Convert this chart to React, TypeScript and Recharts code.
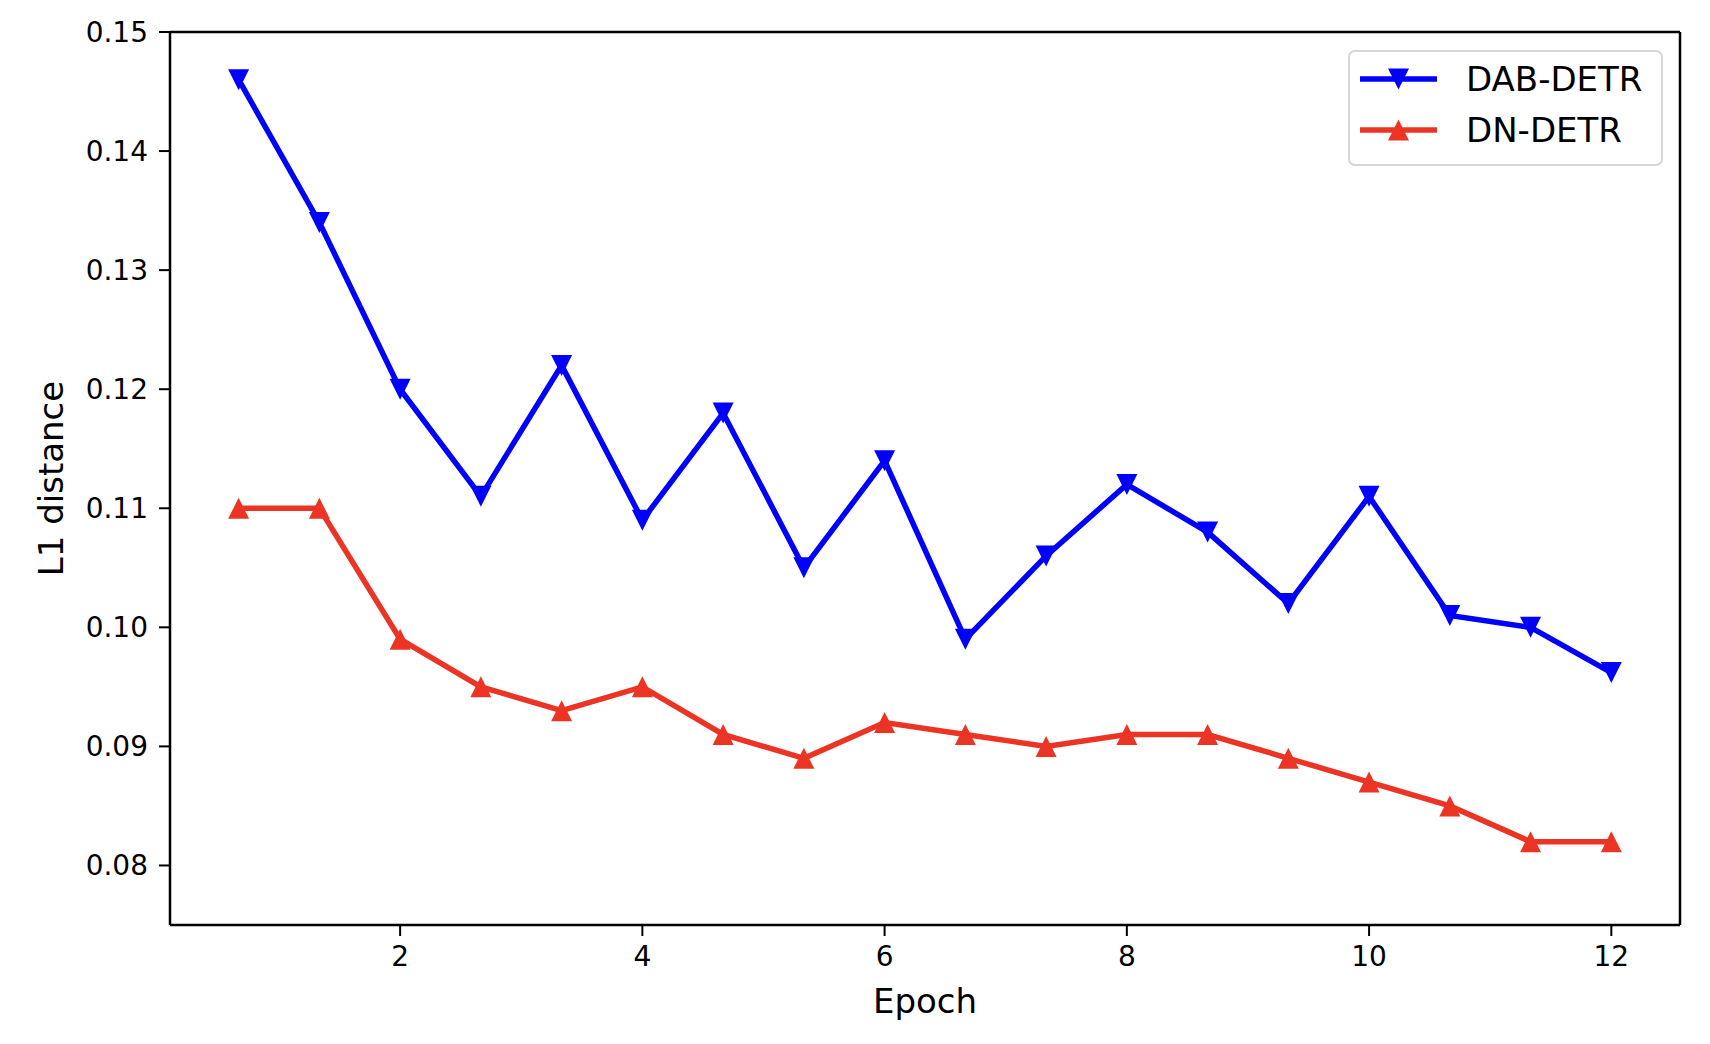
import React from 'react';
import { LineChart, Line, XAxis, YAxis, Legend, Label, ReferenceLine } from 'recharts';

const epochs = [0.6667, 1.3333, 2, 2.6667, 3.3333, 4, 4.6667, 5.3333, 6, 6.6667, 7.3333, 8, 8.6667, 9.3333, 10, 10.6667, 11.3333, 12];
const dabDetr = [0.146, 0.134, 0.120, 0.111, 0.122, 0.109, 0.118, 0.105, 0.114, 0.099, 0.106, 0.112, 0.108, 0.102, 0.111, 0.101, 0.100, 0.0962];
const dnDetr = [0.110, 0.110, 0.099, 0.095, 0.093, 0.095, 0.091, 0.089, 0.092, 0.091, 0.090, 0.091, 0.091, 0.089, 0.087, 0.085, 0.082, 0.082];
const xTicks = [2, 4, 6, 8, 10, 12];
const yTicks = [0.08, 0.09, 0.10, 0.11, 0.12, 0.13, 0.14, 0.15];
const xDomain = [0.1, 12.567];
const yDomain = [0.075, 0.15];
const seriesNames = ['DAB-DETR', 'DN-DETR'];

const BLUE = '#0000ff';
const RED = '#eb3424';
const FONT = '"DejaVu Sans", sans-serif';

const data = epochs.map((e, i) => ({ epoch: e, dab: dabDetr[i], dn: dnDetr[i] }));

const TRI = 10.5;

const DownTri = (props: any) => {
  const { cx, cy, fill } = props;
  if (cx == null || cy == null) return null;
  return <path d={`M${cx - TRI},${cy - TRI} L${cx + TRI},${cy - TRI} L${cx},${cy + TRI} Z`} fill={fill} stroke="none" />;
};
const UpTri = (props: any) => {
  const { cx, cy, fill } = props;
  if (cx == null || cy == null) return null;
  return <path d={`M${cx - TRI},${cy + TRI} L${cx + TRI},${cy + TRI} L${cx},${cy - TRI} Z`} fill={fill} stroke="none" />;
};

const LegendBox = () => (
  <div
    style={{
      position: 'absolute',
      left: 1348,
      top: 50,
      width: 311,
      height: 112,
      border: '2px solid #d6d6d6',
      borderRadius: 7,
      background: 'rgba(255,255,255,0.8)',
      fontFamily: FONT,
      fontSize: 34,
      color: '#000',
    }}
  >
    {[
      { name: seriesNames[0], color: BLUE, down: true },
      { name: seriesNames[1], color: RED, down: false },
    ].map((it, i) => (
      <div key={it.name} style={{ position: 'absolute', left: 0, top: 27 + i * 51 - 25, height: 50, width: 311 }}>
        <svg width={100} height={50} style={{ position: 'absolute', left: 10, top: 0 }}>
          <line x1={0} y1={25} x2={77} y2={25} stroke={it.color} strokeWidth={5.5} />
          {it.down ? (
            <path d={`M${38.5 - TRI},${25 - TRI} L${38.5 + TRI},${25 - TRI} L38.5,${25 + TRI} Z`} fill={it.color} />
          ) : (
            <path d={`M${38.5 - TRI},${25 + TRI} L${38.5 + TRI},${25 + TRI} L38.5,${25 - TRI} Z`} fill={it.color} />
          )}
        </svg>
        <span style={{ position: 'absolute', left: 116, top: 25, transform: 'translateY(-50%)', lineHeight: 1, whiteSpace: 'nowrap' }}>
          {it.name}
        </span>
      </div>
    ))}
  </div>
);

const tickStyle = { fill: '#000', fontSize: 28, fontFamily: FONT };

export default function App() {
  return (
    <div style={{ position: 'absolute', left: 0, top: 0, width: 1710, height: 1044, background: '#fff' }}>
      <LineChart width={1710} height={1044} data={data} margin={{ top: 32, right: 30, left: 0, bottom: 0 }}>
        <XAxis
          dataKey="epoch"
          type="number"
          domain={xDomain}
          ticks={xTicks}
          allowDataOverflow
          height={119}
          tick={tickStyle}
          tickSize={11}
          tickMargin={10}
          axisLine={{ stroke: '#000', strokeWidth: 2.5 }}
          tickLine={{ stroke: '#000', strokeWidth: 2 }}
        >
          <Label
            content={(p: any) => {
              const vb = p.viewBox || {};
              return (
                <text x={vb.x + vb.width / 2} y={vb.y + 88} textAnchor="middle" fontFamily={FONT} fontSize={34} fill="#000">
                  Epoch
                </text>
              );
            }}
          />
        </XAxis>
        <YAxis
          type="number"
          domain={yDomain}
          ticks={yTicks}
          allowDataOverflow
          width={170}
          tick={tickStyle}
          tickSize={11}
          tickMargin={11}
          tickFormatter={(v: number) => v.toFixed(2)}
          axisLine={{ stroke: '#000', strokeWidth: 2.5 }}
          tickLine={{ stroke: '#000', strokeWidth: 2 }}
        >
          <Label
            content={(p: any) => {
              const vb = p.viewBox || {};
              const cx = vb.x + 51;
              const cy = vb.y + vb.height / 2;
              return (
                <text
                  x={cx}
                  y={cy}
                  textAnchor="middle"
                  dominantBaseline="central"
                  transform={`rotate(-90, ${cx}, ${cy})`}
                  fontFamily={FONT}
                  fontSize={34}
                  fill="#000"
                >
                  L1 distance
                </text>
              );
            }}
          />
        </YAxis>
        <ReferenceLine y={yDomain[1]} stroke="#000" strokeWidth={2.5} ifOverflow="visible" />
        <ReferenceLine x={xDomain[1]} stroke="#000" strokeWidth={2.5} ifOverflow="visible" />
        <Line
          dataKey="dab"
          name={seriesNames[0]}
          stroke={BLUE}
          strokeWidth={5.5}
          fill={BLUE}
          dot={(p: any) => <DownTri key={`d${p.index}`} {...p} fill={BLUE} />}
          activeDot={false}
          isAnimationActive={false}
          strokeLinejoin="miter"
        />
        <Line
          dataKey="dn"
          name={seriesNames[1]}
          stroke={RED}
          strokeWidth={5.5}
          fill={RED}
          dot={(p: any) => <UpTri key={`u${p.index}`} {...p} fill={RED} />}
          activeDot={false}
          isAnimationActive={false}
          strokeLinejoin="miter"
        />
        <Legend content={() => <LegendBox />} wrapperStyle={{ position: 'absolute', left: 0, top: 0, width: 0, height: 0 }} />
      </LineChart>
    </div>
  );
}
